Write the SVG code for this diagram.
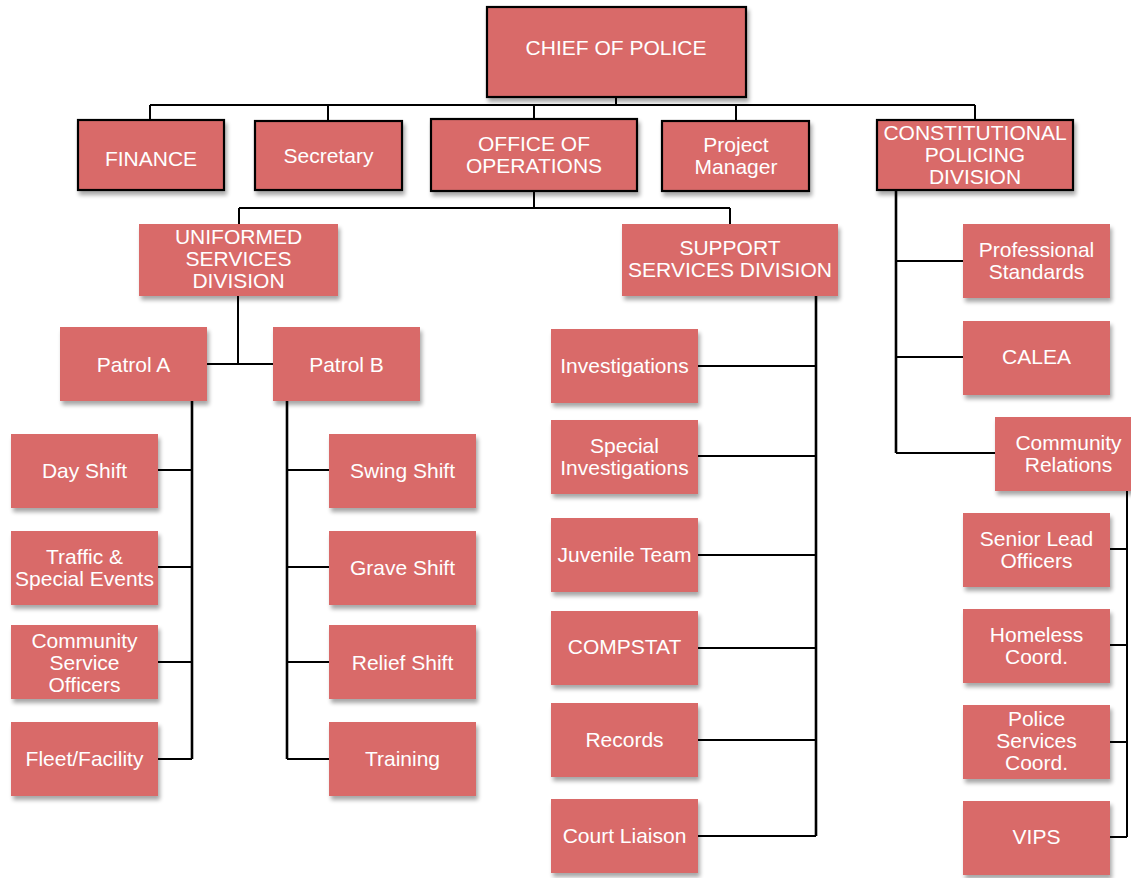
<svg xmlns="http://www.w3.org/2000/svg" width="1131" height="878" viewBox="0 0 1131 878">
<defs>
<filter id="sh" x="-10%" y="-10%" width="130%" height="140%">
<feGaussianBlur in="SourceAlpha" stdDeviation="2"/>
<feOffset dx="2" dy="4" result="b"/>
<feComponentTransfer><feFuncA type="linear" slope="0.35"/></feComponentTransfer>
<feMerge><feMergeNode/><feMergeNode in="SourceGraphic"/></feMerge>
</filter>
</defs>
<style>
.box{fill:#d96b69;filter:url(#sh)}
.bd{stroke:#000;stroke-width:2.2}
.t{font-family:"Liberation Sans",Arial,sans-serif;font-size:21px;fill:#fff;text-anchor:middle}
.c{fill:none;stroke:#000;stroke-width:2}
.ct{fill:none;stroke:#000;stroke-width:2.6}
</style>
<rect width="1131" height="878" fill="#fff"/>
<g id="connectors">
<path class="c" d="M616,97V105M150,105H975M150,105V120M328,105V121M534,105V119M736,105V121M975,105V120"/>
<path class="c" d="M534,191V208M239,208H730M239,208V224M730,208V224"/>
<path class="c" d="M238,296V364M207,364H273"/>
<path class="ct" d="M192,401V759"/>
<path class="c" d="M158,470H192M158,567H192M158,662H192M158,759H192"/>
<path class="ct" d="M287,401V759"/>
<path class="c" d="M287,470H329M287,567H329M287,662H329M287,759H329"/>
<path class="ct" d="M816,296V836"/>
<path class="c" d="M698,366H816M698,456H816M698,555H816M698,648H816M698,740H816M698,836H816"/>
<path class="ct" d="M896,190V453"/>
<path class="c" d="M896,261H963M896,357H963M896,453H995"/>
<path class="c" d="M1127,491V837M1110,549H1127M1110,645H1127M1110,742H1127M1110,837H1127"/>
</g>
<g id="chief"><rect class="box bd" x="487" y="7" width="259" height="90"/><text class="t" x="616" y="55">CHIEF OF POLICE</text></g>
<g id="finance"><rect class="box bd" x="78" y="120" width="146" height="70"/><text class="t" x="151" y="165.5">FINANCE</text></g>
<g id="secretary"><rect class="box bd" x="255" y="121" width="147" height="69"/><text class="t" x="328.5" y="162.5">Secretary</text></g>
<g id="operations"><rect class="box bd" x="431" y="119" width="206" height="72"/><text class="t" x="534" y="150.5">OFFICE OF</text><text class="t" x="534" y="172.5">OPERATIONS</text></g>
<g id="project"><rect class="box bd" x="662" y="121" width="147" height="70"/><text class="t" x="736" y="151.5">Project</text><text class="t" x="736" y="173.5">Manager</text></g>
<g id="constitutional"><rect class="box bd" x="877" y="120" width="196" height="70"/><text class="t" x="975" y="139.5">CONSTITUTIONAL</text><text class="t" x="975" y="161.5">POLICING</text><text class="t" x="975" y="183.5">DIVISION</text></g>
<g id="uniformed"><rect class="box" x="139" y="224" width="199" height="72"/><text class="t" x="238.5" y="243.5">UNIFORMED</text><text class="t" x="238.5" y="265.5">SERVICES</text><text class="t" x="238.5" y="287.5">DIVISION</text></g>
<g id="support"><rect class="box" x="622" y="224" width="216" height="72"/><text class="t" x="730" y="254.5">SUPPORT</text><text class="t" x="730" y="276.5">SERVICES DIVISION</text></g>
<g id="patrolA"><rect class="box" x="60" y="327" width="147" height="74"/><text class="t" x="133.5" y="371.5">Patrol A</text></g>
<g id="patrolB"><rect class="box" x="273" y="327" width="147" height="74"/><text class="t" x="346.5" y="371.5">Patrol B</text></g>
<g id="day"><rect class="box" x="11" y="434" width="147" height="74"/><text class="t" x="84.5" y="477.5">Day Shift</text></g>
<g id="traffic"><rect class="box" x="11" y="531" width="147" height="74"/><text class="t" x="84.5" y="563.5">Traffic &amp;</text><text class="t" x="84.5" y="585.5">Special Events</text></g>
<g id="cso"><rect class="box" x="11" y="625" width="147" height="74"/><text class="t" x="84.5" y="647.5">Community</text><text class="t" x="84.5" y="669.5">Service</text><text class="t" x="84.5" y="691.5">Officers</text></g>
<g id="fleet"><rect class="box" x="11" y="722" width="147" height="74"/><text class="t" x="84.5" y="765.5">Fleet/Facility</text></g>
<g id="swing"><rect class="box" x="329" y="434" width="147" height="74"/><text class="t" x="402.5" y="477.5">Swing Shift</text></g>
<g id="grave"><rect class="box" x="329" y="531" width="147" height="74"/><text class="t" x="402.5" y="574.5">Grave Shift</text></g>
<g id="relief"><rect class="box" x="329" y="625" width="147" height="74"/><text class="t" x="402.5" y="669.5">Relief Shift</text></g>
<g id="training"><rect class="box" x="329" y="722" width="147" height="74"/><text class="t" x="402.5" y="765.5">Training</text></g>
<g id="investigations"><rect class="box" x="551" y="329" width="147" height="74"/><text class="t" x="624.5" y="373">Investigations</text></g>
<g id="special"><rect class="box" x="551" y="420" width="147" height="74"/><text class="t" x="624.5" y="452.5">Special</text><text class="t" x="624.5" y="474.5">Investigations</text></g>
<g id="juvenile"><rect class="box" x="551" y="518" width="147" height="74"/><text class="t" x="624.5" y="562">Juvenile Team</text></g>
<g id="compstat"><rect class="box" x="551" y="611" width="147" height="74"/><text class="t" x="624.5" y="653.5">COMPSTAT</text></g>
<g id="records"><rect class="box" x="551" y="703" width="147" height="74"/><text class="t" x="624.5" y="746.5">Records</text></g>
<g id="court"><rect class="box" x="551" y="799" width="147" height="74"/><text class="t" x="624.5" y="843">Court Liaison</text></g>
<g id="professional"><rect class="box" x="963" y="224" width="147" height="74"/><text class="t" x="1036.5" y="256.5">Professional</text><text class="t" x="1036.5" y="278.5">Standards</text></g>
<g id="calea"><rect class="box" x="963" y="321" width="147" height="74"/><text class="t" x="1036.5" y="364">CALEA</text></g>
<g id="community"><rect class="box" x="995" y="417" width="147" height="74"/><text class="t" x="1068.5" y="449.5">Community</text><text class="t" x="1068.5" y="471.5">Relations</text></g>
<g id="senior"><rect class="box" x="963" y="513" width="147" height="74"/><text class="t" x="1036.5" y="545.5">Senior Lead</text><text class="t" x="1036.5" y="567.5">Officers</text></g>
<g id="homeless"><rect class="box" x="963" y="609" width="147" height="74"/><text class="t" x="1036.5" y="641.5">Homeless</text><text class="t" x="1036.5" y="663.5">Coord.</text></g>
<g id="police"><rect class="box" x="963" y="705" width="147" height="74"/><text class="t" x="1036.5" y="726">Police</text><text class="t" x="1036.5" y="748">Services</text><text class="t" x="1036.5" y="770">Coord.</text></g>
<g id="vips"><rect class="box" x="963" y="801" width="147" height="74"/><text class="t" x="1036.5" y="843.5">VIPS</text></g>
</svg>
